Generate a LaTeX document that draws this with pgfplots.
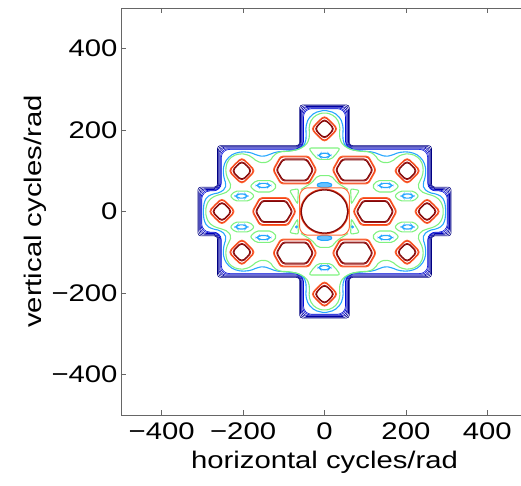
\documentclass[border=0pt]{standalone}
\usepackage{pgfplots}
\pgfplotsset{compat=1.18}
\usepackage{fontspec}
\setmainfont{Liberation Sans}[FakeStretch=1.22]
\definecolor{DBa}{rgb}{0,0,0.50}
\definecolor{DBb}{rgb}{0,0,0.57}
\definecolor{DBc}{rgb}{0,0,0.64}
\definecolor{DBd}{rgb}{0,0,0.71}
\definecolor{DBe}{rgb}{0,0.02,0.78}
\definecolor{DBf}{rgb}{0,0.05,0.85}
\definecolor{LB}{rgb}{0.15,0.65,1}
\definecolor{GR}{rgb}{0.5,0.95,0.5}
\definecolor{ORa}{rgb}{1,0.42,0.2}
\definecolor{ORb}{rgb}{0.95,0.25,0.1}
\definecolor{DRa}{rgb}{0.65,0.1,0.1}
\definecolor{DRb}{rgb}{0.5,0.03,0.03}
\definecolor{AX}{rgb}{0.4,0.4,0.4}
\pgfplotsset{
  lb/.style={draw=LB, line width=1.1bp, rounded corners=2bp},
  gr/.style={draw=GR, line width=1.1bp, rounded corners=2bp},
  oa/.style={draw=ORa, line width=1.0bp, rounded corners=2.5bp},
  ob/.style={draw=ORb, line width=1.0bp, rounded corners=2.5bp},
  da/.style={draw=DRa, line width=1.0bp, rounded corners=2.5bp},
  dd/.style={draw=DRb, line width=1.0bp, rounded corners=2.5bp},
  db/.style={line width=0.6bp},
  dm/.style={rounded corners=3.5bp},
}
\begin{document}
\begin{tikzpicture}
\begin{axis}[
  width=407bp, height=407bp, scale only axis,
  xmin=-500, xmax=500, ymin=-500, ymax=500,
  xtick={-400,-200,0,200,400}, ytick={-400,-200,0,200,400},
  xticklabels={−400,−200,0,200,400}, yticklabels={−400,−200,0,200,400},
  tick align=inside, major tick length=5bp,
  axis line style={AX, line width=0.8bp},
  tick style={AX, line width=0.8bp},
  tick label style={font=\fontsize{24bp}{28bp}\selectfont},
  label style={font=\fontsize{24bp}{28bp}\selectfont},
  xticklabel style={yshift=-4bp},
  xlabel={horizontal cycles/rad}, ylabel={vertical cycles/rad},
  xlabel style={yshift=-5bp},
  ylabel style={yshift=-2bp},
]
% dark blue outer bundle
\addplot[db, draw=DBa, rounded corners=3bp] coordinates {(0,262) (61,262) (61,162) (263,162) (263,60) (311,60) (311,-60) (263,-60) (263,-162) (61,-162) (61,-262) (-61,-262) (-61,-162) (-263,-162) (-263,-60) (-311,-60) (-311,60) (-263,60) (-263,162) (-61,162) (-61,262)} -- cycle;
\addplot[db, draw=DBb, rounded corners=4bp] coordinates {(0,260) (59,260) (59,160) (261,160) (261,58) (309,58) (309,-58) (261,-58) (261,-160) (59,-160) (59,-260) (-59,-260) (-59,-160) (-261,-160) (-261,-58) (-309,-58) (-309,58) (-261,58) (-261,160) (-59,160) (-59,260)} -- cycle;
\addplot[db, draw=DBc, rounded corners=5bp] coordinates {(0,258) (57,258) (57,158) (259,158) (259,56) (307,56) (307,-56) (259,-56) (259,-158) (57,-158) (57,-258) (-57,-258) (-57,-158) (-259,-158) (-259,-56) (-307,-56) (-307,56) (-259,56) (-259,158) (-57,158) (-57,258)} -- cycle;
\addplot[db, draw=DBd, rounded corners=6bp] coordinates {(0,256) (55,256) (55,156) (257,156) (257,54) (305,54) (305,-54) (257,-54) (257,-156) (55,-156) (55,-256) (-55,-256) (-55,-156) (-257,-156) (-257,-54) (-305,-54) (-305,54) (-257,54) (-257,156) (-55,156) (-55,256)} -- cycle;
\addplot[db, draw=DBe, rounded corners=7bp] coordinates {(0,254) (53,254) (53,154) (255,154) (255,52) (303,52) (303,-52) (255,-52) (255,-154) (53,-154) (53,-254) (-53,-254) (-53,-154) (-255,-154) (-255,-52) (-303,-52) (-303,52) (-255,52) (-255,154) (-53,154) (-53,254)} -- cycle;
\addplot[db, draw=DBf, rounded corners=8bp] coordinates {(0,252.5) (51.5,252.5) (51.5,152.5) (253.5,152.5) (253.5,50.5) (301.5,50.5) (301.5,-50.5) (253.5,-50.5) (253.5,-152.5) (51.5,-152.5) (51.5,-252.5) (-51.5,-252.5) (-51.5,-152.5) (-253.5,-152.5) (-253.5,-50.5) (-301.5,-50.5) (-301.5,50.5) (-253.5,50.5) (-253.5,152.5) (-51.5,152.5) (-51.5,252.5)} -- cycle;
% light blue outer loop
\addplot[lb] coordinates {(0,249) (24,243) (40,228) (46,208) (45,188) (46,172) (52,160) (68,151) (100,148) (120,146) (135,140) (150,135) (165,138) (182,145) (203,147) (224,142) (239,130) (247,115) (249,100) (247,82) (242,68) (244,56) (258,46) (275,43) (289,36) (296,22) (298,0)
 (296,-22) (289,-36) (275,-43) (258,-46) (244,-56) (242,-68) (247,-82) (249,-100) (247,-115) (239,-130) (224,-142) (203,-147) (182,-145) (165,-138) (150,-135) (135,-140) (120,-146) (100,-148) (68,-151) (52,-160) (46,-172) (45,-188) (46,-208) (40,-228) (24,-243) (0,-249)
 (-24,-243) (-40,-228) (-46,-208) (-45,-188) (-46,-172) (-52,-160) (-68,-151) (-100,-148) (-120,-146) (-135,-140) (-150,-135) (-165,-138) (-182,-145) (-203,-147) (-224,-142) (-239,-130) (-247,-115) (-249,-100) (-247,-82) (-242,-68) (-244,-56) (-258,-46) (-275,-43) (-289,-36) (-296,-22) (-298,0)
 (-296,22) (-289,36) (-275,43) (-258,46) (-244,56) (-242,68) (-247,82) (-249,100) (-247,115) (-239,130) (-224,142) (-203,147) (-182,145) (-165,138) (-150,135) (-135,140) (-120,146) (-100,148) (-68,151) (-52,160) (-46,172) (-45,188) (-46,208) (-40,228) (-24,243)} -- cycle;
% light blue small blobs
\addplot[lb] coordinates {(-14,138) (-9,143) (9,143) (14,138) (9,133) (-9,133)} -- cycle;
\addplot[lb] coordinates {(-14,-138) (-9,-133) (9,-133) (14,-138) (9,-143) (-9,-143)} -- cycle;
\addplot[lb] coordinates {(134,64) (140,69) (160,69) (166,64) (160,59) (140,59)} -- cycle;
\addplot[lb] coordinates {(-166,64) (-160,69) (-140,69) (-134,64) (-140,59) (-160,59)} -- cycle;
\addplot[lb] coordinates {(134,-64) (140,-59) (160,-59) (166,-64) (160,-69) (140,-69)} -- cycle;
\addplot[lb] coordinates {(-166,-64) (-160,-59) (-140,-59) (-134,-64) (-140,-69) (-160,-69)} -- cycle;
\addplot[lb] coordinates {(190,38) (195,43) (213,43) (218,38) (213,33) (195,33)} -- cycle;
\addplot[lb] coordinates {(-218,38) (-213,43) (-195,43) (-190,38) (-195,33) (-213,33)} -- cycle;
\addplot[lb] coordinates {(190,-38) (195,-33) (213,-33) (218,-38) (213,-43) (195,-43)} -- cycle;
\addplot[lb] coordinates {(-218,-38) (-213,-33) (-195,-33) (-190,-38) (-195,-43) (-213,-43)} -- cycle;
\addplot[lb, fill=LB!70] coordinates {(-20,65) (-12,71) (12,71) (20,65) (12,59) (-12,59)} -- cycle;
\addplot[lb, fill=LB!70] coordinates {(-20,-65) (-12,-59) (12,-59) (20,-65) (12,-71) (-12,-71)} -- cycle;
\addplot[only marks, mark=*, mark size=1.3bp, color=LB] coordinates {(-69,-38) (69,-38)};
% green outer loop
\addplot[gr] coordinates {(0,243) (17,239) (31,228) (38,210) (37,192) (38,176) (46,163) (62,153) (85,148) (110,147) (124,139) (134,124) (150,119) (166,123) (180,135) (194,141) (208,142) (225,137) (238,124) (243,106) (241,88) (234,74) (229,62) (237,49) (252,43) (270,38) (284,28) (291,12) (292,0)
 (291,-12) (284,-28) (270,-38) (252,-43) (237,-49) (229,-62) (234,-74) (241,-88) (243,-106) (238,-124) (225,-137) (208,-142) (194,-141) (180,-135) (166,-123) (150,-119) (134,-124) (124,-139) (110,-147) (85,-148) (62,-153) (46,-163) (38,-176) (37,-192) (38,-210) (31,-228) (17,-239) (0,-243)
 (-17,-239) (-31,-228) (-38,-210) (-37,-192) (-38,-176) (-46,-163) (-62,-153) (-85,-148) (-110,-147) (-124,-139) (-134,-124) (-150,-119) (-166,-123) (-180,-135) (-194,-141) (-208,-142) (-225,-137) (-238,-124) (-243,-106) (-241,-88) (-234,-74) (-229,-62) (-237,-49) (-252,-43) (-270,-38) (-284,-28) (-291,-12) (-292,0)
 (-291,12) (-284,28) (-270,38) (-252,43) (-237,49) (-229,62) (-234,74) (-241,88) (-243,106) (-238,124) (-225,137) (-208,142) (-194,141) (-180,135) (-166,123) (-150,119) (-134,124) (-124,139) (-110,147) (-85,148) (-62,153) (-46,163) (-38,176) (-37,192) (-38,210) (-31,228) (-17,239)} -- cycle;
% green holes
\addplot[gr] coordinates {(-38,156) (38,156) (32,145) (16,128) (-16,128) (-32,145)} -- cycle;
\addplot[gr] coordinates {(-38,-156) (38,-156) (32,-145) (16,-128) (-16,-128) (-32,-145)} -- cycle;
\addplot[gr] coordinates {(117,62) (130,76) (168,76) (183,62) (168,48) (130,48)} -- cycle;
\addplot[gr] coordinates {(-117,62) (-130,76) (-168,76) (-183,62) (-168,48) (-130,48)} -- cycle;
\addplot[gr] coordinates {(117,-62) (130,-76) (168,-76) (183,-62) (168,-48) (130,-48)} -- cycle;
\addplot[gr] coordinates {(-117,-62) (-130,-76) (-168,-76) (-183,-62) (-168,-48) (-130,-48)} -- cycle;
\addplot[gr] coordinates {(172,38) (185,50) (220,50) (232,38) (220,26) (185,26)} -- cycle;
\addplot[gr] coordinates {(-172,38) (-185,50) (-220,50) (-232,38) (-220,26) (-185,26)} -- cycle;
\addplot[gr] coordinates {(172,-38) (185,-50) (220,-50) (232,-38) (220,-26) (185,-26)} -- cycle;
\addplot[gr] coordinates {(-172,-38) (-185,-50) (-220,-50) (-232,-38) (-220,-26) (-185,-26)} -- cycle;
\addplot[gr] coordinates {(-58,54) (-32,70) (-16,88) (16,88) (32,70) (58,54)};
\addplot[gr] coordinates {(-58,-54) (-32,-70) (-16,-88) (16,-88) (32,-70) (58,-54)};
\addplot[gr] coordinates {(-86,52) (-64,56) (-66,18)} -- cycle;
\addplot[gr] coordinates {(86,52) (64,56) (66,18)} -- cycle;
\addplot[gr] coordinates {(-86,-52) (-64,-56) (-66,-18)} -- cycle;
\addplot[gr] coordinates {(86,-52) (64,-56) (66,-18)} -- cycle;
% hexagons: TL
\addplot[oa] coordinates {(-127,102) (-108,136) (-38,136) (-19,102) (-38,68) (-108,68)} -- cycle;
\addplot[ob] coordinates {(-125,102) (-107,134) (-39,134) (-21,102) (-39,70) (-107,70)} -- cycle;
\addplot[da] coordinates {(-119,102) (-103,129) (-43,129) (-27,102) (-43,75) (-103,75)} -- cycle;
\addplot[dd] coordinates {(-117,102) (-102,127) (-44,127) (-29,102) (-44,77) (-102,77)} -- cycle;
% TR
\addplot[oa] coordinates {(127,102) (108,136) (38,136) (19,102) (38,68) (108,68)} -- cycle;
\addplot[ob] coordinates {(125,102) (107,134) (39,134) (21,102) (39,70) (107,70)} -- cycle;
\addplot[da] coordinates {(119,102) (103,129) (43,129) (27,102) (43,75) (103,75)} -- cycle;
\addplot[dd] coordinates {(117,102) (102,127) (44,127) (29,102) (44,77) (102,77)} -- cycle;
% BL
\addplot[oa] coordinates {(-127,-102) (-108,-68) (-38,-68) (-19,-102) (-38,-136) (-108,-136)} -- cycle;
\addplot[ob] coordinates {(-125,-102) (-107,-70) (-39,-70) (-21,-102) (-39,-134) (-107,-134)} -- cycle;
\addplot[da] coordinates {(-119,-102) (-103,-75) (-43,-75) (-27,-102) (-43,-129) (-103,-129)} -- cycle;
\addplot[dd] coordinates {(-117,-102) (-102,-77) (-44,-77) (-29,-102) (-44,-127) (-102,-127)} -- cycle;
% BR
\addplot[oa] coordinates {(127,-102) (108,-68) (38,-68) (19,-102) (38,-136) (108,-136)} -- cycle;
\addplot[ob] coordinates {(125,-102) (107,-70) (39,-70) (21,-102) (39,-134) (107,-134)} -- cycle;
\addplot[da] coordinates {(119,-102) (103,-75) (43,-75) (27,-102) (43,-129) (103,-129)} -- cycle;
\addplot[dd] coordinates {(117,-102) (102,-77) (44,-77) (29,-102) (44,-127) (102,-127)} -- cycle;
% L
\addplot[oa] coordinates {(-178,0) (-159,34) (-89,34) (-70,0) (-89,-34) (-159,-34)} -- cycle;
\addplot[ob] coordinates {(-176,0) (-158,32) (-90,32) (-72,0) (-90,-32) (-158,-32)} -- cycle;
\addplot[da] coordinates {(-170,0) (-154,27) (-94,27) (-78,0) (-94,-27) (-154,-27)} -- cycle;
\addplot[dd] coordinates {(-168,0) (-153,25) (-95,25) (-80,0) (-95,-25) (-153,-25)} -- cycle;
% R
\addplot[oa] coordinates {(178,0) (159,34) (89,34) (70,0) (89,-34) (159,-34)} -- cycle;
\addplot[ob] coordinates {(176,0) (158,32) (90,32) (72,0) (90,-32) (158,-32)} -- cycle;
\addplot[da] coordinates {(170,0) (154,27) (94,27) (78,0) (94,-27) (154,-27)} -- cycle;
\addplot[dd] coordinates {(168,0) (153,25) (95,25) (80,0) (95,-25) (153,-25)} -- cycle;
% diamonds: T
\addplot[oa, dm] coordinates {(33,203) (17,220) (0,236) (-17,220) (-33,203) (-17,186) (0,170) (17,186)} -- cycle;
\addplot[ob, dm] coordinates {(31,203) (16,219) (0,234) (-16,219) (-31,203) (-16,187) (0,172) (16,187)} -- cycle;
\addplot[da, dm] coordinates {(25,203) (13,216) (0,228) (-13,216) (-25,203) (-13,190) (0,178) (13,190)} -- cycle;
\addplot[dd, dm] coordinates {(23,203) (12,215) (0,226) (-12,215) (-23,203) (-12,191) (0,180) (12,191)} -- cycle;
% B
\addplot[oa, dm] coordinates {(33,-203) (17,-186) (0,-170) (-17,-186) (-33,-203) (-17,-220) (0,-236) (17,-220)} -- cycle;
\addplot[ob, dm] coordinates {(31,-203) (16,-187) (0,-172) (-16,-187) (-31,-203) (-16,-219) (0,-234) (16,-219)} -- cycle;
\addplot[da, dm] coordinates {(25,-203) (13,-190) (0,-178) (-13,-190) (-25,-203) (-13,-216) (0,-228) (13,-216)} -- cycle;
\addplot[dd, dm] coordinates {(23,-203) (12,-191) (0,-180) (-12,-191) (-23,-203) (-12,-215) (0,-226) (12,-215)} -- cycle;
% TR
\addplot[oa, dm] coordinates {(236,100) (220,117) (203,133) (186,117) (170,100) (186,83) (203,67) (220,83)} -- cycle;
\addplot[ob, dm] coordinates {(234,100) (219,116) (203,131) (187,116) (172,100) (187,84) (203,69) (219,84)} -- cycle;
\addplot[da, dm] coordinates {(228,100) (216,113) (203,125) (190,113) (178,100) (190,87) (203,75) (216,87)} -- cycle;
\addplot[dd, dm] coordinates {(226,100) (215,112) (203,123) (191,112) (180,100) (191,88) (203,77) (215,88)} -- cycle;
% TL
\addplot[oa, dm] coordinates {(-236,100) (-220,117) (-203,133) (-186,117) (-170,100) (-186,83) (-203,67) (-220,83)} -- cycle;
\addplot[ob, dm] coordinates {(-234,100) (-219,116) (-203,131) (-187,116) (-172,100) (-187,84) (-203,69) (-219,84)} -- cycle;
\addplot[da, dm] coordinates {(-228,100) (-216,113) (-203,125) (-190,113) (-178,100) (-190,87) (-203,75) (-216,87)} -- cycle;
\addplot[dd, dm] coordinates {(-226,100) (-215,112) (-203,123) (-191,112) (-180,100) (-191,88) (-203,77) (-215,88)} -- cycle;
% BR
\addplot[oa, dm] coordinates {(236,-100) (220,-83) (203,-67) (186,-83) (170,-100) (186,-117) (203,-133) (220,-117)} -- cycle;
\addplot[ob, dm] coordinates {(234,-100) (219,-84) (203,-69) (187,-84) (172,-100) (187,-116) (203,-131) (219,-116)} -- cycle;
\addplot[da, dm] coordinates {(228,-100) (216,-87) (203,-75) (190,-87) (178,-100) (190,-113) (203,-125) (216,-113)} -- cycle;
\addplot[dd, dm] coordinates {(226,-100) (215,-88) (203,-77) (191,-88) (180,-100) (191,-112) (203,-123) (215,-112)} -- cycle;
% BL
\addplot[oa, dm] coordinates {(-236,-100) (-220,-83) (-203,-67) (-186,-83) (-170,-100) (-186,-117) (-203,-133) (-220,-117)} -- cycle;
\addplot[ob, dm] coordinates {(-234,-100) (-219,-84) (-203,-69) (-187,-84) (-172,-100) (-187,-116) (-203,-131) (-219,-116)} -- cycle;
\addplot[da, dm] coordinates {(-228,-100) (-216,-87) (-203,-75) (-190,-87) (-178,-100) (-190,-113) (-203,-125) (-216,-113)} -- cycle;
\addplot[dd, dm] coordinates {(-226,-100) (-215,-88) (-203,-77) (-191,-88) (-180,-100) (-191,-112) (-203,-123) (-215,-112)} -- cycle;
% R
\addplot[oa, dm] coordinates {(285,0) (269,17) (252,33) (235,17) (219,0) (235,-17) (252,-33) (269,-17)} -- cycle;
\addplot[ob, dm] coordinates {(283,0) (268,16) (252,31) (236,16) (221,0) (236,-16) (252,-31) (268,-16)} -- cycle;
\addplot[da, dm] coordinates {(277,0) (265,13) (252,25) (239,13) (227,0) (239,-13) (252,-25) (265,-13)} -- cycle;
\addplot[dd, dm] coordinates {(275,0) (264,12) (252,23) (240,12) (229,0) (240,-12) (252,-23) (264,-12)} -- cycle;
% L
\addplot[oa, dm] coordinates {(-285,0) (-269,17) (-252,33) (-235,17) (-219,0) (-235,-17) (-252,-33) (-269,-17)} -- cycle;
\addplot[ob, dm] coordinates {(-283,0) (-268,16) (-252,31) (-236,16) (-221,0) (-236,-16) (-252,-31) (-268,-16)} -- cycle;
\addplot[da, dm] coordinates {(-277,0) (-265,13) (-252,25) (-239,13) (-227,0) (-239,-13) (-252,-25) (-265,-13)} -- cycle;
\addplot[dd, dm] coordinates {(-275,0) (-264,12) (-252,23) (-240,12) (-229,0) (-240,-12) (-252,-23) (-264,-12)} -- cycle;
% centre
\addplot[oa] coordinates {(61,0) (61,45) (49,58) (0,58) (-49,58) (-61,45) (-61,-45) (-49,-58) (49,-58) (61,-45)} -- cycle;
\addplot[draw=ORb, line width=1.2bp, smooth] coordinates {(59,0) (54.5,21) (41.7,38.9) (22.6,50.8) (0,55) (-22.6,50.8) (-41.7,38.9) (-54.5,21) (-59,0) (-54.5,-21) (-41.7,-38.9) (-22.6,-50.8) (0,-55) (22.6,-50.8) (41.7,-38.9) (54.5,-21) (59,0)};
\addplot[draw=DRb, line width=1.2bp, smooth] coordinates {(57,0) (52.7,20.3) (40.3,37.5) (21.8,49) (0,53) (-21.8,49) (-40.3,37.5) (-52.7,20.3) (-57,0) (-52.7,-20.3) (-40.3,-37.5) (-21.8,-49) (0,-53) (21.8,-49) (40.3,-37.5) (52.7,-20.3) (57,0)};
\end{axis}
\pgfresetboundingbox
\path[use as bounding box] ([shift={(-121bp,-71bp)}]current axis.south west) rectangle ([shift={(400bp,415bp)}]current axis.south west);
\end{tikzpicture}
\end{document}
